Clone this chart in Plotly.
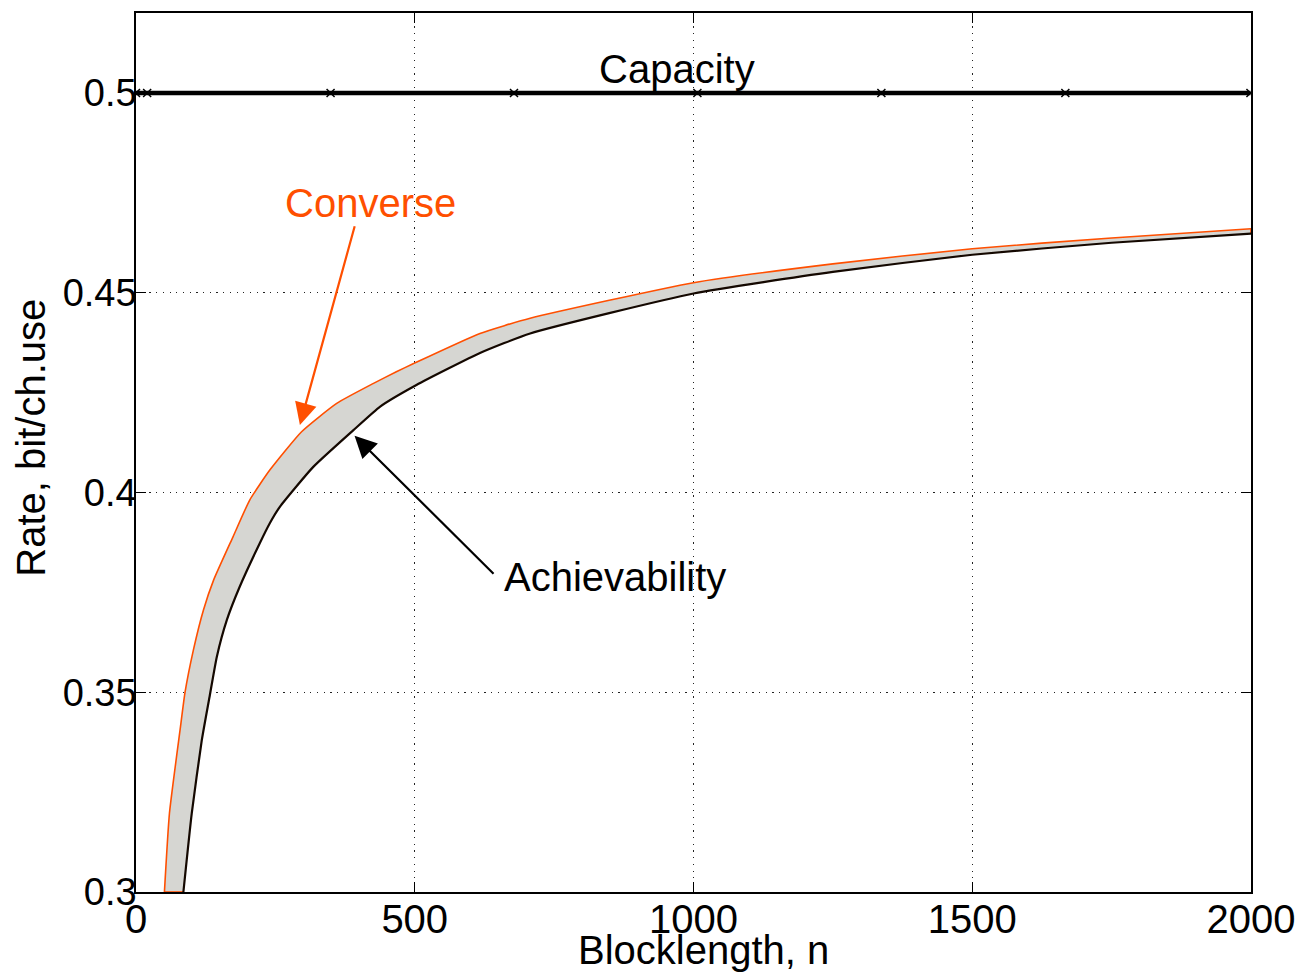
import plotly.graph_objects as go

# Data
converse_n = [51, 60, 79, 88, 103, 121, 139, 174, 204, 240, 297, 360, 426, 467, 497, 617, 707,
              1000, 1250, 1500, 1750, 2000]
converse_r = [0.3, 0.3197, 0.3405, 0.35, 0.3606, 0.3706, 0.378, 0.3889, 0.3981, 0.4056, 0.4152,
              0.4223, 0.4273, 0.4302, 0.4322, 0.4398, 0.4436, 0.4525, 0.4572, 0.461, 0.4637, 0.466]

achiev_n = [85, 100, 118, 133, 145, 163, 186, 222, 240, 258, 318, 390, 438, 503, 617, 707,
            1000, 1250, 1500, 1750, 2000]
achiev_r = [0.3, 0.3197, 0.338, 0.3497, 0.3589, 0.3681, 0.3764, 0.3873, 0.3923, 0.3964, 0.4064,
            0.4156, 0.4215, 0.4269, 0.4349, 0.4398, 0.4498, 0.4552, 0.4595, 0.4625, 0.4648]

capacity_n = [0, 20, 349, 678, 1007, 1337, 1667, 1999]
capacity_r = [0.5] * len(capacity_n)

x_ticks = [0, 500, 1000, 1500, 2000]
y_ticks = [0.3, 0.35, 0.4, 0.45, 0.5]
y_ticktext = ["0.3", "0.35", "0.4", "0.45", "0.5"]

ORANGE = "#ff4f00"
FONT = "Liberation Sans, Arial, Helvetica, sans-serif"
FS = 40

fig = go.Figure()

# Shaded region between achievability (lower) and converse (upper)
fig.add_trace(go.Scatter(x=achiev_n, y=achiev_r, mode="lines",
                         line=dict(color="rgba(0,0,0,0)", width=0, shape="spline", smoothing=0.5),
                         hoverinfo="skip", showlegend=False))
fig.add_trace(go.Scatter(x=converse_n, y=converse_r, mode="lines", fill="tonexty",
                         fillcolor="#d6d6d2",
                         line=dict(color=ORANGE, width=1.6, shape="spline", smoothing=0.5),
                         showlegend=False))
# Closing edges of the shaded patch
fig.add_trace(go.Scatter(x=[converse_n[0], achiev_n[0]], y=[converse_r[0], achiev_r[0]], mode="lines",
                         line=dict(color=ORANGE, width=1.6), hoverinfo="skip", showlegend=False))
fig.add_trace(go.Scatter(x=[converse_n[-1], achiev_n[-1]], y=[converse_r[-1], achiev_r[-1]], mode="lines",
                         line=dict(color=ORANGE, width=1.6), hoverinfo="skip", showlegend=False))
fig.add_trace(go.Scatter(x=achiev_n, y=achiev_r, mode="lines",
                         line=dict(color="#140800", width=2.2, shape="spline", smoothing=0.5),
                         showlegend=False))
fig.add_trace(go.Scatter(x=capacity_n, y=capacity_r, mode="lines+markers",
                         line=dict(color="black", width=4.5),
                         marker=dict(symbol="x-thin", size=8, line=dict(color="black", width=1.5)),
                         showlegend=False))

# Text labels
fig.add_annotation(x=970, y=0.506, text="Capacity", showarrow=False,
                   font=dict(size=FS, color="black", family=FONT), xref="x", yref="y")
fig.add_annotation(x=420, y=0.4725, text="Converse", showarrow=False,
                   font=dict(size=FS, color=ORANGE, family=FONT), xref="x", yref="y")
fig.add_annotation(x=657, y=0.3789, text="Achievability", showarrow=False, xanchor="left",
                   font=dict(size=FS, color="black", family=FONT), xref="x", yref="y")

# Arrows
fig.add_annotation(x=294, y=0.4169, ax=393, ay=0.467, xref="x", yref="y", axref="x", ayref="y",
                   text="", showarrow=True, arrowhead=2, arrowsize=2, arrowwidth=2.2,
                   arrowcolor=ORANGE, standoff=0)
fig.add_annotation(x=392, y=0.4142, ax=644, ay=0.3793, xref="x", yref="y", axref="x", ayref="y",
                   text="", showarrow=True, arrowhead=2, arrowsize=2, arrowwidth=2.2,
                   arrowcolor="black", standoff=0)

# Axis titles
fig.add_annotation(x=0.509, y=-0.066, xref="paper", yref="paper", text="Blocklength, n",
                   showarrow=False, xanchor="center", yanchor="middle",
                   font=dict(size=FS, color="black", family=FONT))
fig.add_annotation(x=-0.095, y=0.517, xref="paper", yref="paper", text="Rate, bit/ch.use",
                   showarrow=False, textangle=-90, xanchor="center", yanchor="middle",
                   font=dict(size=FS, color="black", family=FONT))

axis_common = dict(showline=True, linecolor="black", linewidth=1.5, mirror="ticks",
                   ticks="inside", ticklen=10, tickcolor="black", tickwidth=1.2,
                   showgrid=True, gridcolor="#222222", gridwidth=1, griddash="1.2px,5.5px",
                   zeroline=False, automargin=False)

fig.update_xaxes(range=[0, 2000], tickvals=x_ticks, ticktext=[str(v) for v in x_ticks],
                 ticklabelstandoff=-9, tickfont=dict(size=FS, color="black", family=FONT),
                 **axis_common)
fig.update_yaxes(range=[0.3, 0.52], tickvals=y_ticks, ticktext=y_ticktext,
                 ticklabelstandoff=-10, tickfont=dict(size=38, color="black", family=FONT),
                 **axis_common)

# The page body adds an 8px offset, so the margins compensate for it
fig.update_layout(width=1303, height=973, margin=dict(l=128, r=60, t=5, b=89),
                  paper_bgcolor="white", plot_bgcolor="white",
                  font=dict(family=FONT, color="black"))

fig.write_html("out.html")
